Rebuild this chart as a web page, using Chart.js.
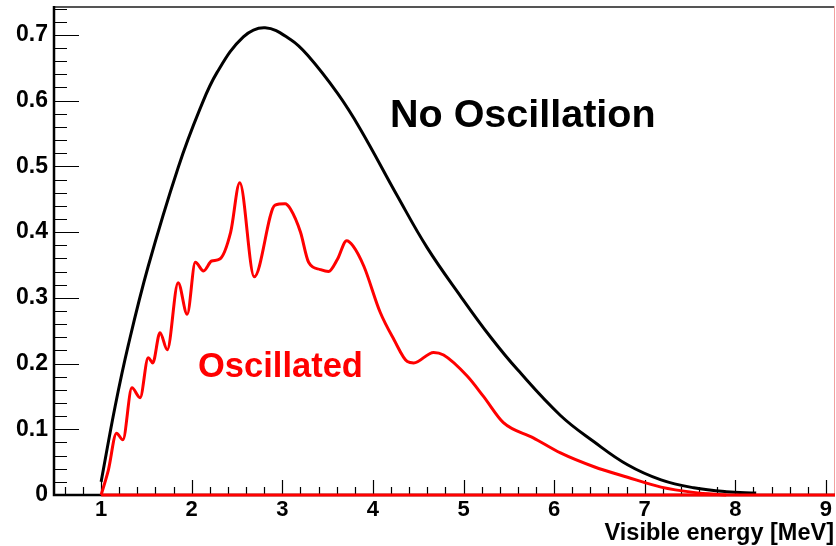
<!DOCTYPE html>
<html>
<head>
<meta charset="utf-8">
<script src="https://cdn.jsdelivr.net/npm/chart.js@4.4.1/dist/chart.umd.min.js"></script>
<style>
  html, body { margin: 0; padding: 0; background: #fff; }
</style>
</head>
<body>
<canvas id="spectrum" width="836" height="546"></canvas>
<script>
// visible energy [MeV] and spectrum values
const noOscEnergy = [1.0, 1.155, 1.3, 1.52, 1.85, 2.09, 2.28, 2.57, 2.81, 3.09, 3.28, 3.61, 3.86, 4.27, 4.6, 4.97, 5.3, 5.6, 6.07, 6.44, 6.81, 7.18, 7.54, 7.9, 8.23]
const noOscValue = [0.02, 0.135, 0.228, 0.348, 0.498, 0.587, 0.643, 0.697, 0.711, 0.693, 0.669, 0.611, 0.557, 0.455, 0.376, 0.302, 0.24, 0.19, 0.121, 0.081, 0.046, 0.023, 0.011, 0.005, 0.003]

const oscEnergy = [1.0, 1.08, 1.17, 1.24, 1.34, 1.43, 1.52, 1.57, 1.65, 1.73, 1.85, 1.95, 2.04, 2.13, 2.22, 2.31, 2.43, 2.53, 2.69, 2.92, 3.03, 3.09, 3.2, 3.29, 3.42, 3.51, 3.61, 3.71, 3.78, 3.9, 4.08, 4.23, 4.38, 4.45, 4.67, 4.78, 5.04, 5.22, 5.44, 5.77, 6.07, 6.44, 6.81, 7.18, 7.54, 7.9]
const oscValue = [0, 0.038, 0.094, 0.084, 0.163, 0.148, 0.209, 0.201, 0.247, 0.221, 0.323, 0.275, 0.354, 0.341, 0.356, 0.359, 0.4, 0.475, 0.332, 0.441, 0.443, 0.435, 0.4, 0.354, 0.343, 0.34, 0.359, 0.387, 0.379, 0.348, 0.278, 0.237, 0.203, 0.201, 0.217, 0.213, 0.181, 0.15, 0.11, 0.087, 0.064, 0.043, 0.027, 0.012, 0.004, 0]

// red zero line under the oscillated curve
const baseEnergy = [1.0, 9.1]
const baseValue = [0, 0]

const xTicks = [1, 2, 3, 4, 5, 6, 7, 8, 9]
const yTicks = [0, 0.1, 0.2, 0.3, 0.4, 0.5, 0.6, 0.7]
const yTickLabels = ['0', '0.1', '0.2', '0.3', '0.4', '0.5', '0.6', '0.7']

const FONT = "'Liberation Sans', Arial, Helvetica, sans-serif"

const pairs = (xs, ys) => xs.map((x, i) => ({ x, y: ys[i] }))

// ROOT style frame: inward ticks, axis lines, texts
const rootFrame = {
  id: 'rootFrame',
  beforeDatasetsDraw(chart) {
    const { ctx, chartArea: a, scales } = chart
    const x = scales.x
    const y = scales.y
    ctx.save()
    // top border
    ctx.strokeStyle = '#555'
    ctx.lineWidth = 2
    ctx.beginPath()
    ctx.moveTo(a.left, a.top + 1)
    ctx.lineTo(a.right, a.top + 1)
    ctx.stroke()
    // right border
    ctx.strokeStyle = '#f2a0a0'
    ctx.lineWidth = 1
    ctx.beginPath()
    ctx.moveTo(a.right - 0.5, a.top)
    ctx.lineTo(a.right - 0.5, a.bottom)
    ctx.stroke()

    ctx.strokeStyle = '#000'
    ctx.lineWidth = 1.2
    ctx.beginPath()
    // x ticks every 0.2, major at integers
    for (let i = 3; i <= 45; i++) {
      const v = i * 0.2
      if (v > x.max) break
      const px = Math.round(x.getPixelForValue(v)) + 0.5
      const len = i % 5 === 0 ? 15 : 8
      ctx.moveTo(px, a.bottom)
      ctx.lineTo(px, a.bottom - len)
    }
    // y ticks every 0.02, major at tenths
    for (let i = 1; i <= 37; i++) {
      const v = i * 0.02
      if (v > y.max) break
      const py = Math.round(y.getPixelForValue(v)) + 0.5
      const len = i % 5 === 0 ? 25 : 13
      ctx.moveTo(a.left, py)
      ctx.lineTo(a.left + len, py)
    }
    ctx.stroke()

    // axis lines
    ctx.lineWidth = 2.5
    ctx.beginPath()
    ctx.moveTo(a.left, a.top)
    ctx.lineTo(a.left, a.bottom)
    ctx.lineTo(a.right, a.bottom)
    ctx.stroke()
    ctx.restore()
  },
  afterDraw(chart) {
    const { ctx } = chart
    ctx.save()
    ctx.textBaseline = 'alphabetic'
    ctx.fillStyle = '#000'
    ctx.font = `bold 39.5px ${FONT}`
    ctx.textAlign = 'left'
    ctx.fillText('No Oscillation', 390, 127)
    ctx.fillStyle = '#ff0000'
    ctx.font = `bold 34.5px ${FONT}`
    ctx.fillText('Oscillated', 198, 377)
    ctx.fillStyle = '#000'
    ctx.font = `bold 23.5px ${FONT}`
    ctx.textAlign = 'right'
    ctx.fillText('Visible energy [MeV]', 834, 540)
    ctx.restore()
  },
}

new Chart(document.getElementById('spectrum'), {
  type: 'scatter',
  data: {
    datasets: [
      {
        data: pairs(baseEnergy, baseValue),
        showLine: true,
        borderColor: '#ff0000',
        borderWidth: 3,
        pointRadius: 0,
        clip: false,
      },
      {
        data: pairs(oscEnergy, oscValue),
        showLine: true,
        borderColor: '#ff0000',
        borderWidth: 3,
        pointRadius: 0,
        cubicInterpolationMode: 'monotone',
        clip: false,
      },
      {
        data: pairs(noOscEnergy, noOscValue),
        showLine: true,
        borderColor: '#000000',
        borderWidth: 3,
        pointRadius: 0,
        tension: 0.4,
        clip: false,
      },
    ],
  },
  options: {
    responsive: false,
    animation: false,
    devicePixelRatio: 1,
    layout: { padding: { top: 6, right: 1, left: 0, bottom: 0 } },
    plugins: {
      legend: { display: false },
      tooltip: { enabled: false },
    },
    scales: {
      x: {
        type: 'linear',
        min: 0.48,
        max: 9.1,
        grid: { display: false, drawTicks: false },
        border: { display: false },
        afterBuildTicks: (scale) => {
          scale.ticks = xTicks.map((v) => ({ value: v }))
        },
        afterFit: (scale) => {
          scale.height = 51
          scale.paddingLeft = 0
          scale.paddingRight = 0
        },
        ticks: {
          color: '#000',
          padding: 2,
          maxRotation: 0,
          autoSkip: false,
          font: { family: FONT, size: 22, weight: 'bold' },
        },
      },
      y: {
        min: 0,
        max: 0.744,
        grid: { display: false, drawTicks: false },
        border: { display: false },
        afterBuildTicks: (scale) => {
          scale.ticks = yTicks.map((v) => ({ value: v }))
        },
        afterFit: (scale) => {
          scale.width = 54
          scale.paddingTop = 0
          scale.paddingBottom = 0
        },
        ticks: {
          color: '#000',
          padding: 6,
          callback: (v, i) => yTickLabels[i],
          font: { family: FONT, size: 23, weight: 'bold' },
        },
      },
    },
  },
  plugins: [rootFrame],
})
</script>
</body>
</html>
